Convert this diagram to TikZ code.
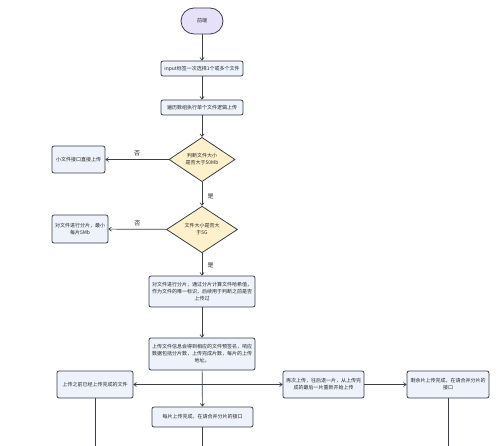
\documentclass[tikz,border=0pt]{standalone}
\usepackage{fontspec}
\setmainfont{Noto Sans CJK SC}
\usetikzlibrary{arrows.meta,shapes.geometric}
\definecolor{edge}{HTML}{3A3F4A}
\definecolor{boxfill}{HTML}{EEF2FA}
\definecolor{askfill}{HTML}{FDF1CC}
\definecolor{startfill}{HTML}{E6E1F8}

\begin{document}
\begin{tikzpicture}[x=1pt,y=-1pt,
  every node/.style={font=\fontsize{5}{7}\selectfont,text=black!85},
  flowbox/.style={draw=edge,fill=boxfill,line width=0.8pt,rounded corners=2pt,align=center,inner sep=1pt},
  askbox/.style={diamond,draw=edge,fill=askfill,line width=0.8pt,align=center,inner sep=0pt},
  flow/.style={draw=edge,line width=0.7pt,-{Straight Barb[length=2.5pt,width=4pt]}},
  tag/.style={font=\fontsize{6}{7}\selectfont}]
  \useasboundingbox[fill=white] (0,0) rectangle (500,446);

  % main column
  \node[draw=edge,fill=startfill,line width=0.8pt,rounded corners=13pt,
        minimum width=42pt,minimum height=26pt] (start) at (202,21) {前端};
  \node[flowbox,minimum width=82pt,minimum height=15pt] (pick) at (202,68.5)
    {input标签一次选择1个或多个文件};
  \node[flowbox,minimum width=82pt,minimum height=15pt] (loop) at (202,107.5)
    {遍历数组执行单个文件逻辑上传};
  \node[askbox,minimum width=66pt,minimum height=41pt] (chk50) at (202,159.5)
    {判断文件大小\\是否大于50Mb};
  \node[askbox,minimum width=71pt,minimum height=45pt] (chk5g) at (202,229.5)
    {文件大小是否大\\于5G};
  \node[flowbox,minimum width=106pt,minimum height=31pt] (hash) at (202,291.5)
    {对文件进行分片，通过分片计算文件哈希值，\\作为文件的唯一标识，后续用于判断之前是否\\上传过};
  \node[flowbox,minimum width=106pt,minimum height=32pt] (presign) at (202,354)
    {上传文件信息会得到相应的文件预签名，响应\\数据包括分片数，上传完成片数，每片的上传\\地址。};
  \node[flowbox,minimum width=101pt,minimum height=20pt] (each) at (202.5,417)
    {每片上传完成，在请合并分片的接口};

  % side boxes
  \node[flowbox,minimum width=53pt,minimum height=27pt] (small) at (78.5,159.5)
    {小文件接口直接上传};
  \node[flowbox,minimum width=56pt,minimum height=28pt] (slice5) at (80,229)
    {对文件进行分片，最小\\每片5Mb};
  \node[flowbox,minimum width=76pt,minimum height=27pt] (done) at (95,384.5)
    {上传之前已经上传完成的文件};
  \node[flowbox,minimum width=81pt,minimum height=27pt] (retry) at (323.5,384.5)
    {再次上传，往后退一片，从上传完\\成的最后一片重新开始上传};
  \node[flowbox,minimum width=82pt,minimum height=27pt] (merge) at (448,384.5)
    {剩余片上传完成，在请合并分片的\\接口};

  % connectors
  \draw[flow] (start) -- (pick);
  \draw[flow] (pick) -- (loop);
  \draw[flow] (loop) -- (chk50);
  \draw[flow] (chk50) -- node[tag,midway,above] {否} (small);
  \draw[flow] (chk50) -- node[tag,pos=0.6,right=2pt] {是} (chk5g);
  \draw[flow] (chk5g) -- node[tag,midway,above] {否} (slice5);
  \draw[flow] (chk5g) -- node[tag,pos=0.55,right=2pt] {是} (hash);
  \draw[flow] (hash) -- (presign);
  \draw[flow] (presign) -- (each);
  \draw[flow,{Straight Barb[length=2.5pt,width=4pt]}-{Straight Barb[length=2.5pt,width=4pt]}] (done) -- (retry);
  \draw[flow] (retry) -- (merge);

  % lines running off the bottom
  \coordinate (doneEnd) at (95,446);
  \coordinate (eachEnd) at (202.5,446);
  \coordinate (mergeEnd) at (448,446);
  \draw[draw=edge,line width=0.7pt] (done) -- (doneEnd);
  \draw[draw=edge,line width=0.7pt] (each) -- (eachEnd);
  \draw[draw=edge,line width=0.7pt] (merge) -- (mergeEnd);
\end{tikzpicture}
\end{document}
